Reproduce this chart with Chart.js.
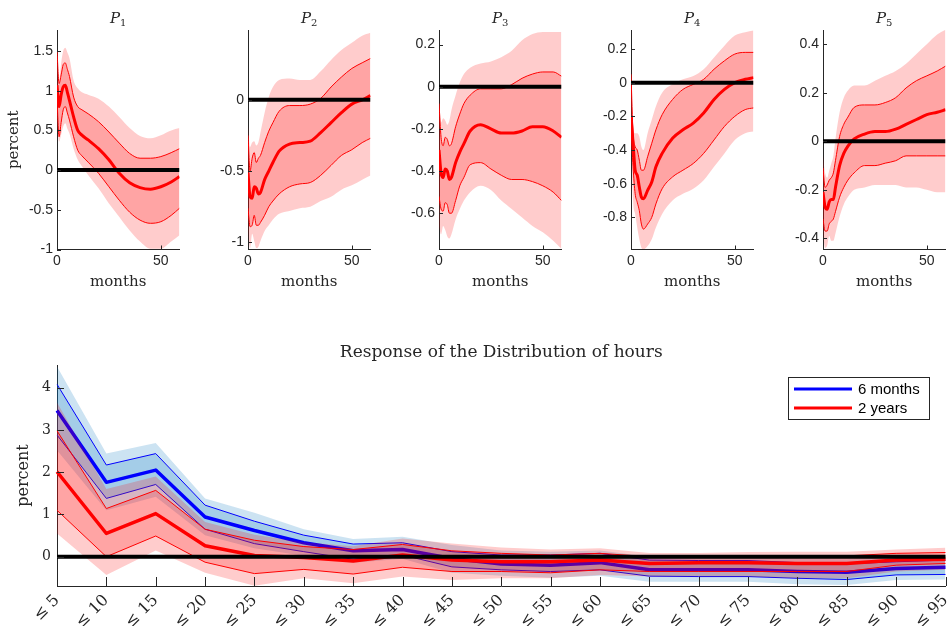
<!DOCTYPE html>
<html>
<head>
<meta charset="utf-8">
<script src="https://cdn.jsdelivr.net/npm/chart.js@4.4.1/dist/chart.umd.min.js"></script>
<style>
  html, body { margin: 0; padding: 0; background: #fff; overflow: hidden; }
  #wrap { position: relative; width: 948px; height: 626px; }
  .box { position: absolute; }
</style>
</head>
<body>
<div id="wrap">
  <div class="box" style="left:0px;top:0px"><canvas id="p1" width="182" height="300"></canvas></div>
  <div class="box" style="left:191px;top:0px"><canvas id="p2" width="182" height="300"></canvas></div>
  <div class="box" style="left:382px;top:0px"><canvas id="p3" width="182" height="300"></canvas></div>
  <div class="box" style="left:574px;top:0px"><canvas id="p4" width="182" height="300"></canvas></div>
  <div class="box" style="left:766px;top:0px"><canvas id="p5" width="182" height="300"></canvas></div>
  <div class="box" style="left:0px;top:330px"><canvas id="hours" width="948" height="296"></canvas></div>
</div>
<script>
// 1. data
const months = [0, 1, 2, 3, 4, 5, 6, 8, 10, 12, 15, 20, 25, 30, 35, 40, 45, 50, 55, 59];
const monthTicks = [0, 50];

const p1Med  = [1.07, 0.80, 0.95, 1.05, 1.07, 0.98, 0.88, 0.67, 0.50, 0.44, 0.38, 0.27, 0.13, -0.04, -0.16, -0.22, -0.24, -0.21, -0.15, -0.08];
const p1Hi68 = [1.50, 1.09, 1.20, 1.33, 1.35, 1.27, 1.18, 0.92, 0.80, 0.76, 0.71, 0.61, 0.48, 0.34, 0.21, 0.15, 0.15, 0.17, 0.22, 0.27];
const p1Lo68 = [0.90, 0.42, 0.60, 0.76, 0.80, 0.72, 0.63, 0.42, 0.25, 0.18, 0.10, -0.04, -0.21, -0.38, -0.53, -0.63, -0.67, -0.65, -0.57, -0.48];
const p1Hi90 = [1.50, 1.13, 1.35, 1.50, 1.54, 1.48, 1.41, 1.13, 1.03, 0.98, 0.95, 0.90, 0.80, 0.67, 0.53, 0.43, 0.40, 0.44, 0.50, 0.53];
const p1Lo90 = [0.67, 0.36, 0.45, 0.55, 0.59, 0.52, 0.46, 0.27, 0.13, 0.05, -0.06, -0.23, -0.42, -0.59, -0.76, -0.90, -0.99, -0.99, -0.90, -0.82];
const p1Ticks = [-1, -0.5, 0, 0.5, 1, 1.5];

const p2Med  = [-0.51, -0.68, -0.69, -0.61, -0.62, -0.66, -0.65, -0.56, -0.50, -0.44, -0.36, -0.31, -0.30, -0.29, -0.23, -0.16, -0.09, -0.03, 0.00, 0.03];
const p2Hi68 = [-0.25, -0.50, -0.41, -0.37, -0.44, -0.41, -0.39, -0.30, -0.22, -0.16, -0.08, -0.04, -0.04, -0.03, 0.01, 0.09, 0.16, 0.22, 0.26, 0.29];
const p2Lo68 = [-0.76, -0.89, -0.88, -0.81, -0.88, -0.88, -0.86, -0.81, -0.75, -0.71, -0.66, -0.61, -0.59, -0.58, -0.53, -0.46, -0.39, -0.35, -0.30, -0.27];
const p2Hi90 = [-0.18, -0.33, -0.30, -0.29, -0.32, -0.30, -0.23, -0.09, 0.02, 0.09, 0.14, 0.15, 0.14, 0.14, 0.20, 0.28, 0.35, 0.40, 0.45, 0.47];
const p2Lo90 = [-0.92, -1.04, -0.94, -0.99, -1.04, -1.03, -0.99, -0.92, -0.88, -0.84, -0.80, -0.78, -0.76, -0.75, -0.71, -0.68, -0.63, -0.60, -0.56, -0.53];
const p2Ticks = [-1, -0.5, 0];

const p3Med  = [-0.30, -0.41, -0.43, -0.39, -0.40, -0.44, -0.43, -0.36, -0.31, -0.27, -0.21, -0.18, -0.20, -0.22, -0.22, -0.21, -0.19, -0.19, -0.21, -0.24];
const p3Hi68 = [-0.08, -0.24, -0.28, -0.24, -0.25, -0.28, -0.27, -0.19, -0.13, -0.08, -0.04, -0.01, -0.01, -0.01, 0.01, 0.04, 0.06, 0.07, 0.07, 0.05];
const p3Lo68 = [-0.52, -0.58, -0.59, -0.55, -0.56, -0.60, -0.60, -0.54, -0.47, -0.43, -0.37, -0.36, -0.39, -0.42, -0.44, -0.44, -0.45, -0.47, -0.50, -0.54];
const p3Hi90 = [-0.03, -0.17, -0.15, -0.16, -0.18, -0.16, -0.11, -0.04, 0.02, 0.06, 0.09, 0.11, 0.12, 0.14, 0.17, 0.22, 0.25, 0.26, 0.26, 0.26];
const p3Lo90 = [-0.66, -0.70, -0.66, -0.68, -0.71, -0.72, -0.70, -0.63, -0.58, -0.54, -0.50, -0.47, -0.49, -0.54, -0.58, -0.62, -0.66, -0.69, -0.73, -0.77];
const p3Ticks = [-0.6, -0.4, -0.2, 0, 0.2];

const p4Med  = [-0.20, -0.36, -0.52, -0.55, -0.62, -0.68, -0.69, -0.64, -0.59, -0.50, -0.42, -0.33, -0.28, -0.24, -0.18, -0.10, -0.04, 0.00, 0.02, 0.03];
const p4Hi68 = [0.05, -0.30, -0.38, -0.40, -0.46, -0.52, -0.52, -0.44, -0.36, -0.28, -0.19, -0.10, -0.04, -0.01, 0.02, 0.08, 0.13, 0.17, 0.18, 0.18];
const p4Lo68 = [-0.25, -0.50, -0.66, -0.71, -0.76, -0.84, -0.87, -0.84, -0.80, -0.72, -0.63, -0.56, -0.52, -0.48, -0.42, -0.34, -0.26, -0.20, -0.16, -0.15];
const p4Hi90 = [0.11, -0.26, -0.30, -0.30, -0.32, -0.38, -0.40, -0.30, -0.22, -0.14, -0.06, -0.01, 0.02, 0.04, 0.08, 0.15, 0.22, 0.28, 0.30, 0.31];
const p4Lo90 = [-0.30, -0.70, -0.78, -0.86, -0.93, -0.98, -0.99, -0.97, -0.93, -0.86, -0.78, -0.70, -0.66, -0.63, -0.58, -0.50, -0.42, -0.34, -0.30, -0.29];
const p4Ticks = [-0.8, -0.6, -0.4, -0.2, 0, 0.2];

const p5Med  = [-0.21, -0.27, -0.28, -0.25, -0.24, -0.24, -0.19, -0.10, -0.05, -0.02, 0.01, 0.03, 0.04, 0.04, 0.05, 0.07, 0.09, 0.11, 0.12, 0.13];
const p5Hi68 = [-0.11, -0.19, -0.18, -0.16, -0.15, -0.13, -0.08, 0.02, 0.07, 0.10, 0.14, 0.15, 0.15, 0.16, 0.18, 0.22, 0.25, 0.27, 0.29, 0.31];
const p5Lo68 = [-0.32, -0.37, -0.37, -0.34, -0.33, -0.32, -0.29, -0.23, -0.19, -0.16, -0.13, -0.10, -0.10, -0.09, -0.08, -0.06, -0.06, -0.06, -0.06, -0.06];
const p5Hi90 = [-0.06, -0.13, -0.15, -0.12, -0.09, -0.06, 0.01, 0.12, 0.18, 0.21, 0.23, 0.23, 0.25, 0.27, 0.29, 0.32, 0.36, 0.40, 0.44, 0.46];
const p5Lo90 = [-0.38, -0.44, -0.43, -0.39, -0.41, -0.41, -0.38, -0.31, -0.26, -0.23, -0.20, -0.19, -0.18, -0.18, -0.18, -0.19, -0.19, -0.20, -0.21, -0.21];
const p5Ticks = [-0.4, -0.2, 0, 0.2, 0.4];

// bottom panel: distribution of hours
const bins = ['≤ 5', '≤ 10', '≤ 15', '≤ 20', '≤ 25', '≤ 30', '≤ 35', '≤ 40', '≤ 45', '≤ 50',
              '≤ 55', '≤ 60', '≤ 65', '≤ 70', '≤ 75', '≤ 80', '≤ 85', '≤ 90', '≤ 95'];
const hoursTicks = [0, 1, 2, 3, 4];
const seriesNames = ['6 months', '2 years'];

const blueMed  = [3.46, 1.76, 2.05, 0.94, 0.62, 0.33, 0.14, 0.17, -0.04, -0.17, -0.20, -0.14, -0.31, -0.31, -0.31, -0.35, -0.37, -0.28, -0.25];
const blueHi68 = [4.08, 2.17, 2.44, 1.22, 0.84, 0.51, 0.30, 0.33, 0.12, 0.04, 0.04, 0.08, -0.08, -0.09, -0.09, -0.14, -0.17, -0.12, -0.08];
const blueLo68 = [2.88, 1.38, 1.71, 0.65, 0.31, 0.12, -0.06, 0.04, -0.24, -0.31, -0.35, -0.31, -0.46, -0.47, -0.47, -0.51, -0.54, -0.43, -0.42];
const blueHi90 = [4.50, 2.44, 2.69, 1.38, 1.04, 0.65, 0.42, 0.47, 0.28, 0.15, 0.12, 0.15, 0.00, -0.02, -0.02, -0.05, -0.06, 0.00, 0.02];
const blueLo90 = [2.52, 1.10, 1.42, 0.51, 0.20, 0.02, -0.14, -0.05, -0.38, -0.45, -0.50, -0.45, -0.59, -0.59, -0.59, -0.65, -0.67, -0.55, -0.54];

const redMed  = [2.01, 0.55, 1.02, 0.26, 0.03, -0.02, -0.10, 0.04, -0.08, -0.12, -0.12, -0.08, -0.16, -0.14, -0.14, -0.16, -0.16, -0.08, -0.06];
const redHi68 = [2.98, 1.14, 1.57, 0.65, 0.39, 0.24, 0.17, 0.29, 0.14, 0.08, 0.04, 0.08, 0.00, 0.00, 0.01, 0.01, 0.02, 0.08, 0.10];
const redLo68 = [1.10, 0.00, 0.49, -0.13, -0.40, -0.30, -0.41, -0.25, -0.35, -0.35, -0.38, -0.31, -0.35, -0.35, -0.35, -0.35, -0.35, -0.20, -0.16];
const redHi90 = [3.65, 1.60, 1.90, 0.82, 0.52, 0.34, 0.25, 0.43, 0.31, 0.22, 0.17, 0.20, 0.09, 0.09, 0.11, 0.12, 0.12, 0.17, 0.21];
const redLo90 = [0.55, -0.43, 0.15, -0.38, -0.69, -0.51, -0.63, -0.47, -0.55, -0.51, -0.51, -0.43, -0.47, -0.47, -0.47, -0.51, -0.51, -0.35, -0.31];

// 2. styles
const axisColor = '#262626';
const serif = '"DejaVu Serif", serif';
const sans = '"Liberation Sans", Arial, sans-serif';
const redLine = '#ff0000';
const blueLine = '#0000ff';
const redShade = 'rgba(255, 0, 0, 0.2)';
const blueShade = 'rgba(0, 114, 189, 0.2)';

// small ticks pointing into the plot, like matlab
const inwardTicks = {
  id: 'inwardTicks',
  afterDatasetsDraw(chart, args, opts) {
    const { ctx, chartArea: a, scales: { x, y } } = chart;
    ctx.save();
    ctx.strokeStyle = axisColor;
    ctx.lineWidth = 1;
    ctx.beginPath();
    x.ticks.forEach((t, i) => {
      const px = Math.round(x.getPixelForTick(i)) + 0.5;
      ctx.moveTo(px, a.bottom);
      ctx.lineTo(px, a.bottom - opts.xLen);
    });
    y.ticks.forEach((t, i) => {
      const py = Math.round(y.getPixelForTick(i)) + 0.5;
      ctx.moveTo(a.left, py);
      ctx.lineTo(a.left + opts.yLen, py);
    });
    ctx.stroke();
    ctx.restore();
  }
};

// P with subscript above each small panel
const panelTitle = {
  id: 'panelTitle',
  afterDraw(chart, args, opts) {
    if (!opts.base) return;
    const { ctx, chartArea: a } = chart;
    ctx.save();
    ctx.fillStyle = axisColor;
    ctx.textBaseline = 'alphabetic';
    ctx.font = 'italic 15px ' + serif;
    const w1 = ctx.measureText(opts.base).width;
    ctx.font = '10px ' + serif;
    const w2 = ctx.measureText(opts.sub).width;
    const x0 = (a.left + a.right) / 2 - (w1 + w2) / 2;
    ctx.font = 'italic 15px ' + serif;
    ctx.fillText(opts.base, x0, 22.5);
    ctx.font = '10px ' + serif;
    ctx.fillText(opts.sub, x0 + w1, 26);
    ctx.restore();
  }
};

// centered heading for the bottom panel
const topHeading = {
  id: 'topHeading',
  afterDraw(chart, args, opts) {
    if (!opts.text) return;
    const { ctx, chartArea: a } = chart;
    ctx.save();
    ctx.fillStyle = axisColor;
    ctx.font = '17px ' + serif;
    ctx.textAlign = 'center';
    ctx.textBaseline = 'alphabetic';
    ctx.fillText(opts.text, (a.left + a.right) / 2, opts.y);
    ctx.restore();
  }
};

// boxed legend inside the plot
const boxLegend = {
  id: 'boxLegend',
  afterDraw(chart, args, opts) {
    if (!opts.items) return;
    const ctx = chart.ctx;
    ctx.save();
    ctx.fillStyle = '#fff';
    ctx.fillRect(opts.x, opts.y, opts.w, opts.h);
    ctx.strokeStyle = axisColor;
    ctx.lineWidth = 1;
    ctx.strokeRect(opts.x + 0.5, opts.y + 0.5, opts.w, opts.h);
    ctx.font = '15px ' + sans;
    ctx.textBaseline = 'middle';
    opts.items.forEach((it, i) => {
      const ly = opts.y + 12 + i * 19;
      ctx.strokeStyle = it.color;
      ctx.lineWidth = 3;
      ctx.beginPath();
      ctx.moveTo(opts.x + 6, ly);
      ctx.lineTo(opts.x + 64, ly);
      ctx.stroke();
      ctx.fillStyle = '#000';
      ctx.fillText(it.label, opts.x + 70, ly + 1);
    });
    ctx.restore();
  }
};

Chart.register(inwardTicks, panelTitle, topHeading, boxLegend);

// 3. dataset helpers
function lineSet(data, color, width, extra) {
  return Object.assign({
    data: data,
    borderColor: color,
    borderWidth: width,
    pointRadius: 0,
    fill: false,
    borderJoinStyle: 'round'
  }, extra || {});
}

// median, 68% band with edge lines, 90% band without lines
function bandSets(med, hi68, lo68, hi90, lo90, line, shade, medWidth, extra) {
  return [
    lineSet(med, line, medWidth, extra),
    lineSet(hi68, line, 1, Object.assign({ fill: '+1', backgroundColor: shade }, extra)),
    lineSet(lo68, line, 1, extra),
    lineSet(hi90, line, 0, Object.assign({ fill: '+1', backgroundColor: shade }, extra)),
    lineSet(lo90, line, 0, extra)
  ];
}

function toPoints(values) {
  return values.map((v, i) => ({ x: months[i], y: v }));
}

const noGrid = { display: false, drawTicks: false, tickLength: 0 };

// 4. small impulse response panels
const panels = [
  { id: 'p1', sub: '1', med: p1Med, hi68: p1Hi68, lo68: p1Lo68, hi90: p1Hi90, lo90: p1Lo90, yMin: -1.0, yMax: 1.765, yTicks: p1Ticks, yLabel: true },
  { id: 'p2', sub: '2', med: p2Med, hi68: p2Hi68, lo68: p2Lo68, hi90: p2Hi90, lo90: p2Lo90, yMin: -1.05, yMax: 0.49, yTicks: p2Ticks, yLabel: false },
  { id: 'p3', sub: '3', med: p3Med, hi68: p3Hi68, lo68: p3Lo68, hi90: p3Hi90, lo90: p3Lo90, yMin: -0.772, yMax: 0.269, yTicks: p3Ticks, yLabel: false },
  { id: 'p4', sub: '4', med: p4Med, hi68: p4Hi68, lo68: p4Lo68, hi90: p4Hi90, lo90: p4Lo90, yMin: -0.991, yMax: 0.313, yTicks: p4Ticks, yLabel: false },
  { id: 'p5', sub: '5', med: p5Med, hi68: p5Hi68, lo68: p5Lo68, hi90: p5Hi90, lo90: p5Lo90, yMin: -0.446, yMax: 0.459, yTicks: p5Ticks, yLabel: false }
];

function drawPanel(cfg) {
  const smooth = { cubicInterpolationMode: 'monotone' };
  const datasets = [lineSet(toPoints(months.map(() => 0)), '#000', 4)].concat(
    bandSets(toPoints(cfg.med), toPoints(cfg.hi68), toPoints(cfg.lo68),
             toPoints(cfg.hi90), toPoints(cfg.lo90), redLine, redShade, 3, smooth)
  );
  new Chart(document.getElementById(cfg.id), {
    type: 'line',
    data: { datasets: datasets },
    options: {
      responsive: false,
      animation: false,
      layout: { padding: { top: 30, right: 2.5, left: 0, bottom: 0 } },
      plugins: {
        legend: { display: false },
        tooltip: { enabled: false },
        inwardTicks: { xLen: 4, yLen: 4 },
        panelTitle: { base: 'P', sub: cfg.sub }
      },
      scales: {
        x: {
          type: 'linear', min: 0, max: 59,
          grid: noGrid,
          border: { display: true, color: axisColor, width: 1 },
          ticks: { font: { family: sans, size: 14 }, color: axisColor, padding: 3, maxRotation: 0 },
          afterBuildTicks: s => { s.ticks = monthTicks.map(v => ({ value: v })); },
          afterFit: s => { s.height = 50.5; s.paddingLeft = 0; s.paddingRight = 0; },
          title: { display: true, text: 'months', font: { family: serif, size: 15 }, color: axisColor, padding: { top: 0, bottom: 8.5 } }
        },
        y: {
          min: cfg.yMin, max: cfg.yMax,
          grid: noGrid,
          border: { display: true, color: axisColor, width: 1 },
          ticks: { font: { family: sans, size: 14 }, color: axisColor, padding: 4, callback: v => String(v) },
          afterBuildTicks: s => { s.ticks = cfg.yTicks.map(v => ({ value: v })); },
          afterFit: s => { s.width = 57; s.paddingTop = 0; s.paddingBottom = 0; },
          title: { display: cfg.yLabel, text: 'percent', font: { family: serif, size: 15 }, color: axisColor, padding: { top: 5.5, bottom: 0 } }
        }
      }
    }
  });
}

// 5. bottom panel
function drawHours() {
  const datasets = [lineSet(bins.map(() => 0), '#000', 4)]
    .concat(bandSets(redMed, redHi68, redLo68, redHi90, redLo90, redLine, redShade, 3.5))
    .concat(bandSets(blueMed, blueHi68, blueLo68, blueHi90, blueLo90, blueLine, blueShade, 3.5));
  new Chart(document.getElementById('hours'), {
    type: 'line',
    data: { labels: bins, datasets: datasets },
    options: {
      responsive: false,
      animation: false,
      layout: { padding: { top: 35, right: 2.5, left: 0, bottom: 0 } },
      plugins: {
        legend: { display: false },
        tooltip: { enabled: false },
        inwardTicks: { xLen: 9, yLen: 7 },
        topHeading: { text: 'Response of the Distribution of hours', y: 26.5 },
        boxLegend: {
          x: 788, y: 47, w: 141, h: 42,
          items: [{ label: seriesNames[0], color: blueLine }, { label: seriesNames[1], color: redLine }]
        }
      },
      scales: {
        x: {
          type: 'category', offset: false,
          grid: noGrid,
          border: { display: true, color: axisColor, width: 1 },
          ticks: { font: { family: serif, size: 16 }, color: axisColor, minRotation: 45, maxRotation: 45, autoSkip: false, padding: 5 },
          afterFit: s => { s.height = 40; s.paddingLeft = 0; s.paddingRight = 0; }
        },
        y: {
          min: -0.693, max: 4.537,
          grid: noGrid,
          border: { display: true, color: axisColor, width: 1 },
          ticks: { font: { family: serif, size: 14 }, color: axisColor, padding: 6 },
          afterBuildTicks: s => { s.ticks = hoursTicks.map(v => ({ value: v })); },
          afterFit: s => { s.width = 57; s.paddingTop = 0; s.paddingBottom = 0; },
          title: { display: true, text: 'percent', font: { family: serif, size: 16 }, color: axisColor, padding: { top: 14, bottom: 0 } }
        }
      }
    }
  });
}

panels.forEach(drawPanel);
drawHours();
</script>
</body>
</html>
